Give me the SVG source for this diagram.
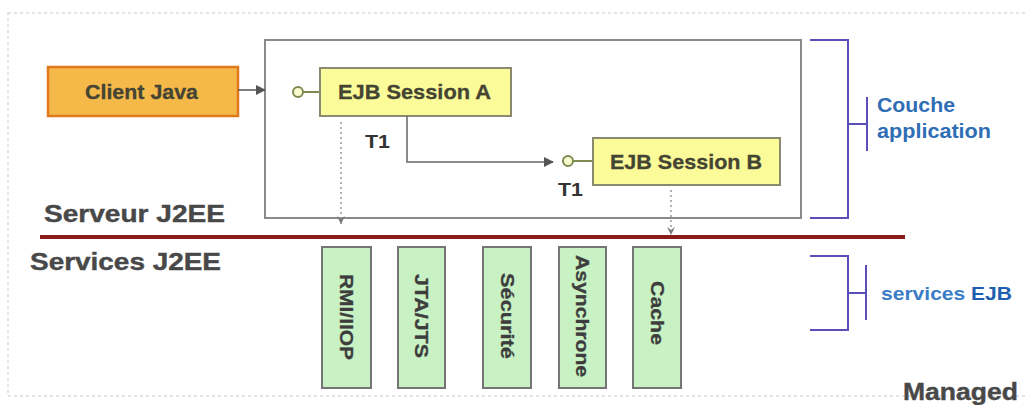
<svg xmlns="http://www.w3.org/2000/svg" width="1026" height="405" viewBox="0 0 1026 405">
<defs>
<style>
text{font-family:"Liberation Sans",Arial,sans-serif;font-weight:bold}
.box{font-size:21px;fill:#444433;stroke:#444433;stroke-width:0.3}
.svc{fill:#c9f2c4;stroke:#757575;stroke-width:2}
.svct{font-size:18px;fill:#3d3d3d;stroke:#3d3d3d;stroke-width:0.3}
.ejb{fill:#fbfb9a;stroke:#8a8a70;stroke-width:2}
.lol{fill:#fbfbd0;stroke:#7d8a50;stroke-width:2}
.brk{fill:none;stroke:#5a4fb8;stroke-width:2}
.lbl{fill:#484848;font-size:24px;stroke:#484848;stroke-width:0.4}
.blue{fill:#2f6db5;font-size:20px}
.dot{fill:none;stroke:#999;stroke-width:1.5;stroke-dasharray:2 3}
</style>
<marker id="ah" markerWidth="10" markerHeight="10" refX="9" refY="5" orient="auto" markerUnits="userSpaceOnUse">
<path d="M0,0 L10,5 L0,10 Z" fill="#555"/>
</marker>
<marker id="dh" markerWidth="10" markerHeight="8" refX="8" refY="4" orient="auto" markerUnits="userSpaceOnUse">
<path d="M0,0 L8,4 L0,8 L3,4 Z" fill="#777"/>
</marker>
</defs>
<rect x="0" y="0" width="1026" height="405" fill="#fff"/>
<rect x="8" y="13" width="1040" height="383" fill="none" stroke="#dcdcdc" stroke-width="1.5" stroke-dasharray="3 3"/>

<g id="server">
<rect x="265" y="40" width="536" height="178" fill="#fff" stroke="#8a8a8a" stroke-width="2"/>
<text class="lbl" x="44" y="222" textLength="181" lengthAdjust="spacingAndGlyphs">Serveur J2EE</text>
</g>
<g id="services-label">
<text class="lbl" x="30" y="270" textLength="191" lengthAdjust="spacingAndGlyphs">Services J2EE</text>
</g>
<line x1="40" y1="237" x2="905" y2="237" stroke="#8b1a1a" stroke-width="4"/>

<g id="client">
<rect x="48" y="67" width="190" height="49" fill="#f5b94a" stroke="#e07a1c" stroke-width="2.5"/>
<text class="box" x="85" y="99" textLength="113" lengthAdjust="spacingAndGlyphs">Client Java</text>
</g>
<g id="sessionA">
<circle class="lol" cx="298" cy="92" r="5"/>
<line x1="303" y1="92" x2="320" y2="92" stroke="#7d8a50" stroke-width="2"/>
<rect class="ejb" x="320" y="68" width="191" height="48"/>
<text class="box" x="338" y="99" textLength="153" lengthAdjust="spacingAndGlyphs">EJB Session A</text>
</g>
<g id="sessionB">
<circle class="lol" cx="568" cy="161" r="5"/>
<line x1="573" y1="161" x2="593" y2="161" stroke="#7d8a50" stroke-width="2"/>
<rect class="ejb" x="593" y="138" width="187" height="47"/>
<text class="box" x="610" y="169" textLength="152" lengthAdjust="spacingAndGlyphs">EJB Session B</text>
</g>
<g id="t1a"><text x="365" y="148" font-size="19" fill="#333" textLength="25" lengthAdjust="spacingAndGlyphs">T1</text></g>
<g id="t1b"><text x="558" y="196" font-size="19" fill="#333" textLength="25" lengthAdjust="spacingAndGlyphs">T1</text></g>

<g id="svc-rmi">
<rect class="svc" x="322" y="247" width="49" height="141"/>
<text class="svct" transform="translate(340,317) rotate(90)" text-anchor="middle" textLength="86" lengthAdjust="spacingAndGlyphs">RMI/IIOP</text>
</g>
<g id="svc-jta">
<rect class="svc" x="398" y="247" width="47" height="141"/>
<text class="svct" transform="translate(415,316) rotate(90)" text-anchor="middle" textLength="84" lengthAdjust="spacingAndGlyphs">JTA/JTS</text>
</g>
<g id="svc-sec">
<rect class="svc" x="483" y="247" width="48" height="141"/>
<text class="svct" transform="translate(501,316) rotate(90)" text-anchor="middle" textLength="86" lengthAdjust="spacingAndGlyphs">Sécurité</text>
</g>
<g id="svc-async">
<rect class="svc" x="559" y="247" width="47" height="141"/>
<text class="svct" transform="translate(576,316) rotate(90)" text-anchor="middle" textLength="122" lengthAdjust="spacingAndGlyphs">Asynchrone</text>
</g>
<g id="svc-cache">
<rect class="svc" x="633" y="247" width="48" height="141"/>
<text class="svct" transform="translate(651,313) rotate(90)" text-anchor="middle" textLength="64" lengthAdjust="spacingAndGlyphs">Cache</text>
</g>

<g id="couche">
<path class="brk" d="M810,40 H848 V218 H810 M848,124 H867 M867,97 V151"/>
<text class="blue" x="877" y="112" textLength="78" lengthAdjust="spacingAndGlyphs">Couche</text>
<text class="blue" x="877" y="138" textLength="114" lengthAdjust="spacingAndGlyphs">application</text>
</g>
<g id="services-ejb">
<path class="brk" d="M810,256 H848 V330 H810 M848,293 H866 M866,265 V320"/>
<text font-size="19" x="881" y="300" textLength="131" lengthAdjust="spacingAndGlyphs"><tspan fill="#3a7cc8">services </tspan><tspan fill="#1f5faf">EJB</tspan></text>
</g>
<g id="managed">
<text class="lbl" x="903" y="400" textLength="115" lengthAdjust="spacingAndGlyphs">Managed</text>
</g>

<g id="connectors">
<line x1="238" y1="90" x2="265" y2="90" stroke="#555" stroke-width="1.5" marker-end="url(#ah)"/>
<polyline points="407,116 407,162 553,162" fill="none" stroke="#666" stroke-width="1.5" marker-end="url(#ah)"/>
<line class="dot" x1="341" y1="122" x2="341" y2="224" marker-end="url(#dh)"/>
<line class="dot" x1="671" y1="190" x2="671" y2="235" marker-end="url(#dh)"/>
</g>
</svg>
